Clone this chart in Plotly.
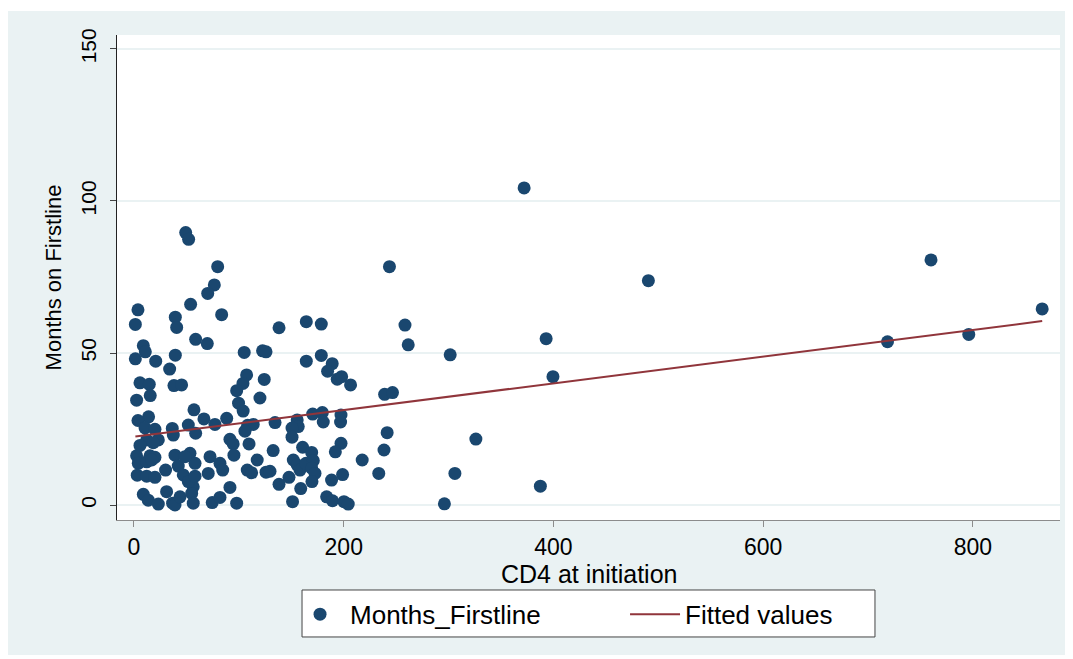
import plotly.graph_objects as go

# CD4 at initiation (x) and Months on Firstline (y)
cd4 = [39.4, 40.7, 3.8, 1.3, 8.9, 10.8, 1.3, 20.7, 39.4, 34.0,
       5.7, 14.6, 15.5, 2.5, 38.1, 13.9, 3.8, 10.5, 20.0, 36.5,
       37.5, 12.1, 23.2, 5.7, 18.4, 2.5, 15.3, 20.0, 4.1, 12.1,
       16.9, 39.1, 30.1, 42.2, 3.1, 12.1, 20.0, 8.9, 13.6, 23.2,
       31.1, 36.8, 39.1, 43.9, 54.0, 83.6, 138.3, 164.3, 178.6, 58.8,
       69.9, 105.1, 122.6, 125.9, 178.6, 164.3, 189.0, 184.6, 193.8, 198.0,
       206.5, 107.4, 103.9, 97.9, 124.2, 120.1, 99.7, 104.1, 45.4, 57.2,
       88.4, 66.7, 77.2, 51.8, 58.8, 108.4, 113.7, 105.8, 134.5, 155.6,
       156.6, 150.7, 170.4, 179.6, 180.5, 197.0, 197.4, 150.7, 91.5, 94.6,
       109.7, 132.7, 160.8, 169.4, 197.4, 192.0, 95.3, 117.5, 53.4, 58.2,
       72.5, 70.8, 82.0, 84.6, 108.0, 112.2, 125.9, 129.7, 151.9, 155.6,
       158.3, 164.0, 171.0, 169.4, 172.6, 169.7, 138.3, 147.8, 159.0, 188.4,
       198.9, 91.5, 56.5, 55.0, 56.5, 74.6, 82.0, 97.9, 151.2, 183.7,
       189.3, 200.2, 204.3, 48.6, 47.0, 51.8, 58.2, 49.3, 52.1, 79.8,
       76.6, 70.3, 243.6, 258.4, 261.5, 239.0, 246.5, 241.4, 238.4, 217.6,
       233.4, 372.0, 490.5, 760.0, 866.0, 718.5, 796.0, 393.0, 301.5, 399.5,
       326.0, 306.0, 387.5, 296.0]
months = [61.8, 58.4, 64.2, 59.4, 52.4, 50.4, 48.1, 47.3, 49.3, 44.7,
          40.2, 39.7, 36.0, 34.5, 39.3, 29.0, 27.8, 25.4, 24.9, 25.2,
          23.0, 21.4, 21.4, 19.6, 20.5, 16.2, 16.2, 15.7, 13.7, 14.2,
          14.8, 16.4, 11.5, 12.8, 9.8, 9.5, 9.1, 3.5, 1.6, 0.3,
          4.4, 0.6, 0.0, 2.7, 66.0, 62.6, 58.3, 60.3, 59.5, 54.5,
          53.1, 50.2, 50.7, 50.4, 49.2, 47.3, 46.5, 44.0, 41.4, 42.2,
          39.5, 42.8, 40.0, 37.6, 41.3, 35.2, 33.5, 30.9, 39.5, 31.3,
          28.5, 28.3, 26.5, 26.3, 23.6, 26.2, 26.5, 24.3, 27.1, 28.0,
          25.8, 25.3, 29.9, 30.4, 27.3, 27.3, 29.6, 22.3, 21.6, 20.1,
          20.1, 17.9, 19.0, 17.3, 20.3, 17.5, 16.4, 14.8, 17.0, 13.7,
          15.9, 10.4, 13.7, 11.5, 11.5, 10.6, 10.8, 11.1, 14.8, 13.2,
          11.5, 13.7, 14.6, 12.1, 10.4, 7.7, 6.8, 9.1, 5.4, 8.2,
          10.0, 5.8, 6.0, 3.8, 0.6, 0.8, 2.5, 0.6, 1.1, 2.7,
          1.4, 1.1, 0.3, 15.9, 9.9, 7.7, 9.5, 89.6, 87.4, 78.4,
          72.4, 69.6, 78.4, 59.2, 52.7, 36.4, 37.0, 23.8, 18.1, 14.8,
          10.4, 104.3, 73.8, 80.6, 64.5, 53.7, 56.1, 54.7, 49.4, 42.2,
          21.7, 10.4, 6.2, 0.4]

# Fitted values line (end points)
fit_x = [1.3, 866.0]
fit_y = [22.5, 60.5]

x_ticks = [0, 200, 400, 600, 800]
y_ticks = [0, 50, 100, 150]

NAVY = "#1a476f"
MAROON = "#90353b"
BG = "#eaf2f3"
FONT = "Liberation Sans, Arial, sans-serif"

fig = go.Figure()
fig.add_trace(go.Scatter(
    x=cd4, y=months, mode="markers", name="Months_Firstline",
    marker=dict(color=NAVY, size=13, line=dict(width=0)),
))
fig.add_trace(go.Scatter(
    x=fit_x, y=fit_y, mode="lines", name="Fitted values",
    line=dict(color=MAROON, width=2),
))

fig.update_layout(
    width=1073, height=659,
    margin=dict(l=109, r=21, t=27, b=147),
    paper_bgcolor="white",
    plot_bgcolor="white",
    font=dict(family=FONT, color="black", size=21),
    showlegend=True,
    legend=dict(
        orientation="h", x=0.1835, y=-0.146, xanchor="left", yanchor="top",
        bgcolor="rgba(0,0,0,0)", borderwidth=0,
        font=dict(size=26), entrywidth=270, entrywidthmode="pixels",
        itemwidth=50,
    ),
    shapes=[
        # outer light background
        dict(type="rect", xref="paper", yref="paper", layer="below",
             x0=-0.1198, x1=1.0095, y0=-0.2784, y1=1.0495,
             fillcolor=BG, line=dict(width=0)),
        # white plot region
        dict(type="rect", xref="paper", yref="paper", layer="below",
             x0=0, x1=1, y0=0, y1=1,
             fillcolor="white", line=dict(width=0)),
        # legend frame
        dict(type="rect", xref="paper", yref="paper", layer="below",
             x0=0.1962, x1=0.8038, y0=-0.2412, y1=-0.1443,
             fillcolor="white", line=dict(color="#444444", width=1)),
    ],
    annotations=[
        dict(text="CD4 at initiation", xref="paper", yref="paper",
             x=0.5, y=-0.1113, xanchor="center", yanchor="middle",
             showarrow=False, font=dict(size=25, color="black")),
    ],
)

fig.update_xaxes(
    range=[-16.2, 883], tickvals=x_ticks, ticktext=[str(v) for v in x_ticks],
    showgrid=False, zeroline=False,
    showline=True, linecolor="#8c8c8c", linewidth=1,
    ticks="outside", ticklen=6, tickcolor="#8c8c8c",
    tickfont=dict(size=23),
)
fig.update_yaxes(
    range=[-4.93, 154.6], tickvals=y_ticks, ticktext=[str(v) for v in y_ticks],
    showgrid=True, gridcolor=BG, gridwidth=2, zeroline=False,
    showline=True, linecolor="#222222", linewidth=1,
    ticks="outside", ticklen=6, tickcolor="#444444",
    tickangle=-90, tickfont=dict(size=21), ticklabelstandoff=6,
    title=dict(text="Months on Firstline", font=dict(size=22), standoff=8),
)

fig.write_html("out.html")
